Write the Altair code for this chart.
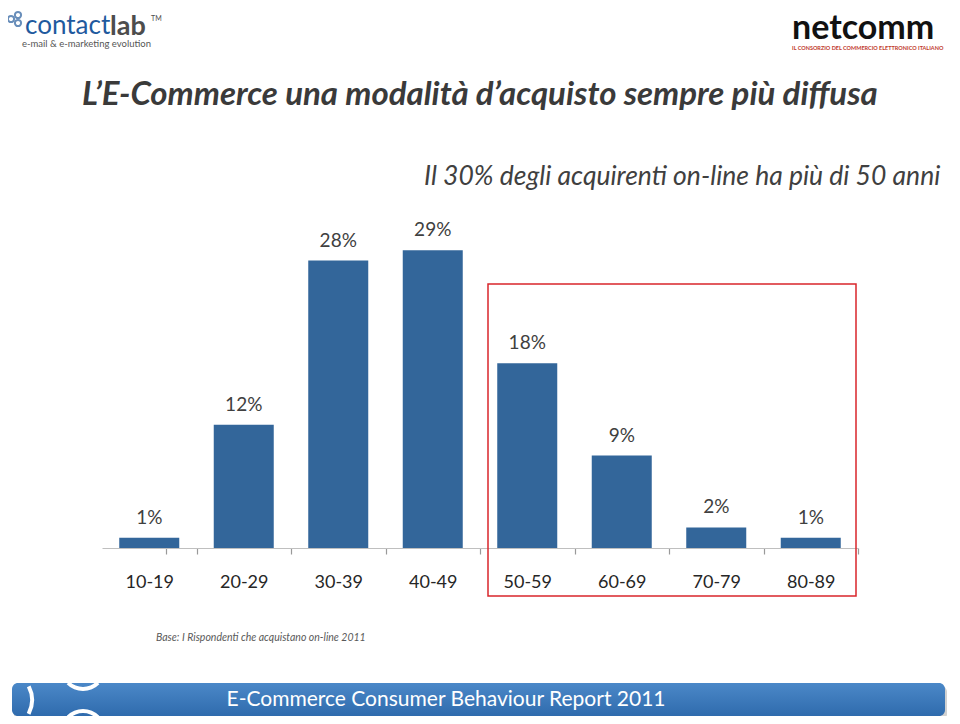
import altair as alt
import pandas as pd

# ---- data ----
categories = ["10-19", "20-29", "30-39", "40-49", "50-59", "60-69", "70-79", "80-89"]
values = [1, 12, 28, 29, 18, 9, 2, 1]
value_labels = ["1%", "12%", "28%", "29%", "18%", "9%", "2%", "1%"]

title_text = "L\u2019E-Commerce una modalit\u00e0 d\u2019acquisto sempre pi\u00f9 diffusa"
subtitle_text = "Il 30% degli acquirenti on-line ha pi\u00f9 di 50 anni"
base_note = "Base: I Rispondenti che acquistano on-line 2011"
footer_text = "E-Commerce Consumer Behaviour Report 2011"

df = pd.DataFrame({"eta": categories, "pct": values, "label": value_labels})
one = pd.DataFrame({"a": [0]})

W, H = 756, 308
OX, OY = 102, 240  # page position of the plot origin
STEP = W / len(categories)


def px(x):
    return x - OX


def py(y):
    return y - OY


FONT = "Lato"

xscale = alt.Scale(domain=categories, paddingInner=0.365, paddingOuter=0.1825)
yscale = alt.Scale(domain=[0, 30])
xaxis = alt.Axis(
    title=None, labelAngle=0, labelFontSize=18, labelFont=FONT,
    labelColor="#262626", labelBaseline="middle", labelPadding=28,
    ticks=True, tickOffset=STEP / 2, labelOffset=-STEP / 2, tickExtra=True,
    tickSize=6, tickColor="#999999", tickWidth=1.2,
    domainColor="#bfbfbf", grid=False,
)

bars = alt.Chart(df).mark_bar(color="#33669a").encode(
    x=alt.X("eta:N", scale=xscale, axis=xaxis),
    y=alt.Y("pct:Q", scale=yscale, axis=None),
)

bar_labels = alt.Chart(df).mark_text(
    dy=-20, fontSize=19, font=FONT, color="#404040"
).encode(
    x=alt.X("eta:N", scale=xscale, axis=xaxis),
    y=alt.Y("pct:Q", scale=yscale, axis=None),
    text="label:N",
)


def text_at(txt, x, y, size, color, weight="normal", style="normal",
            align="left", baseline="alphabetic", font=FONT):
    return alt.Chart(one).mark_text(
        text=txt, fontSize=size, color=color, fontWeight=weight,
        fontStyle=style, align=align, baseline=baseline, font=font,
    ).encode(x=alt.value(px(x)), y=alt.value(py(y)))


def rect_at(x1, y1, x2, y2, **kw):
    return alt.Chart(one).mark_rect(**kw).encode(
        x=alt.value(px(x1)), x2=alt.value(px(x2)),
        y=alt.value(py(y1)), y2=alt.value(py(y2)),
    )


def arc_at(cx, cy, t1, t2, r1, r2, color):
    return alt.Chart(one).mark_arc(
        theta=t1, theta2=t2, radius=r2, radius2=r1, color=color
    ).encode(x=alt.value(px(cx)), y=alt.value(py(cy)))


def ring_at(cx, cy, size, color):
    return alt.Chart(one).mark_point(
        shape="circle", size=size, color=color, strokeWidth=2, filled=False
    ).encode(x=alt.value(px(cx)), y=alt.value(py(cy)))


highlight = rect_at(488, 284, 856, 596, fillOpacity=0, stroke="#d9262b", strokeWidth=1.5)

title = text_at(title_text, 82, 105, 33, "#3a3a3a", weight="bold", style="italic")
subtitle = text_at(subtitle_text, 424, 185, 26.5, "#404040", style="italic")
note = text_at(base_note, 156, 641, 10.5, "#595959", style="italic")

# footer band
footer_shadow = rect_at(14, 686, 947, 720, fill="#9a9a9a", opacity=0.45, cornerRadius=6)
footer = rect_at(
    12, 683, 945, 716, cornerRadius=6,
    fill=alt.Gradient(
        gradient="linear", x1=0, x2=0, y1=0, y2=1,
        stops=[alt.GradientStop(color="#4b88c8", offset=0),
               alt.GradientStop(color="#2f6bad", offset=1)],
    ),
)
arc1 = arc_at(83, 668, 2.35, 3.93, 19, 23, "#ffffff")
arc2 = arc_at(83, 732, 5.5, 7.07, 19, 23, "#ffffff")
arc3 = arc_at(2, 700, 1.1, 2.05, 28, 32, "#ffffff")
footer_label = text_at(footer_text, 446, 700, 21, "#ffffff", align="center", baseline="middle")

# logos (text renditions)
ring1 = ring_at(11, 19, 38, "#2a5f9e")
ring2 = ring_at(18, 15, 38, "#2a5f9e")
ring3 = ring_at(18, 23, 38, "#2a5f9e")
cl_contact = text_at("contact", 25, 34, 26, "#1f5a9e")
cl_lab = text_at("lab", 110, 35, 27, "#4d4d4d", weight="bold")
cl_tm = text_at("TM", 151, 21, 7, "#4d4d4d")
cl_tag = text_at("e-mail & e-marketing evolution", 22, 47, 9.5, "#555555")

nc_logo = text_at("netcomm", 792, 39, 34, "#111111", weight="bold")
nc_tag = text_at("IL CONSORZIO DEL COMMERCIO ELETTRONICO ITALIANO", 792, 50, 5.5, "#c0392b", weight="bold")

chart = alt.layer(
    highlight, bars, bar_labels, title, subtitle, note,
    footer_shadow, footer, arc1, arc2, arc3, footer_label,
    ring1, ring2, ring3, cl_contact, cl_lab, cl_tm, cl_tag, nc_logo, nc_tag,
).properties(
    width=W, height=H,
    autosize=alt.AutoSizeParams(type="none"),
    padding={"left": 94, "top": 232, "right": 94, "bottom": 168},
    background="#ffffff",
).configure_view(strokeWidth=0)

chart.save("out.html", embed_options={"renderer": "svg", "actions": False})
